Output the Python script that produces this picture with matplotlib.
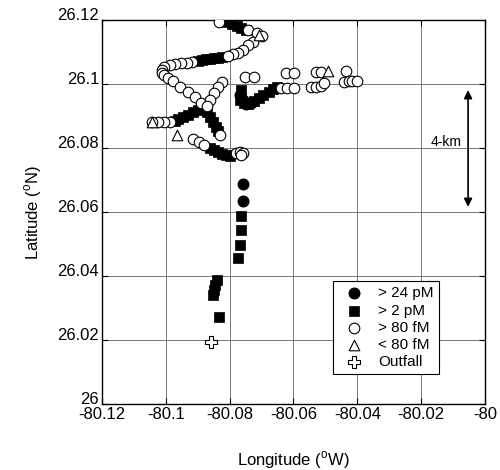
import numpy as np
import matplotlib
matplotlib.use("Agg")
import matplotlib.pyplot as plt
import matplotlib.transforms as mtrans

plt.rcParams['font.family'] = ['Liberation Sans', 'DejaVu Sans']
plt.rcParams['mathtext.fontset'] = 'custom'
plt.rcParams['mathtext.rm'] = 'Liberation Sans'

# > 24 pM
lon_24pm = [-80.0759, -80.0759, -80.0769, -80.0759, -80.0750, -80.0734]
lat_24pm = [26.0688, 26.0634, 26.0966, 26.0950, 26.0938, 26.0941]

# > 2 pM
lon_2pm = [-80.0809, -80.0794, -80.0778, -80.0763, -80.0750,
           -80.0900, -80.0888, -80.0875, -80.0863, -80.0850, -80.0838, -80.0825,
           -80.0884, -80.0900, -80.0916, -80.0931, -80.0947, -80.0963, -80.0972,
           -80.0872, -80.0863, -80.0853, -80.0844, -80.0838,
           -80.0863, -80.0850, -80.0838, -80.0825, -80.0813, -80.0800,
           -80.0766, -80.0769, -80.0756, -80.0741, -80.0725, -80.0709, -80.0694,
           -80.0678, -80.0663, -80.0653,
           -80.0763, -80.0763, -80.0769, -80.0775,
           -80.0841, -80.0847, -80.0850, -80.0853, -80.0834]
lat_2pm = [26.1194, 26.1188, 26.1181, 26.1175, 26.1169,
           26.1072, 26.1075, 26.1077, 26.1078, 26.1080, 26.1081, 26.1084,
           26.0925, 26.0919, 26.0913, 26.0903, 26.0897, 26.0891, 26.0884,
           26.0913, 26.0897, 26.0881, 26.0866, 26.0853,
           26.0800, 26.0794, 26.0788, 26.0781, 26.0778, 26.0775,
           26.0981, 26.0950, 26.0941, 26.0938, 26.0947, 26.0956, 26.0966,
           26.0975, 26.0984, 26.0991,
           26.0588, 26.0544, 26.0497, 26.0456,
           26.0388, 26.0372, 26.0356, 26.0341, 26.0272]

# > 80 fM
lon_80fm = [-80.0834, -80.0744, -80.0713, -80.0700, -80.0728, -80.0744, -80.0759,
            -80.0775, -80.0791, -80.0806,
            -80.0919, -80.0934, -80.0953, -80.0972, -80.0988, -80.1006, -80.1013,
            -80.1013, -80.1006, -80.0994, -80.0978, -80.0956, -80.0931, -80.0909,
            -80.0891,
            -80.0825, -80.0838, -80.0850, -80.0863, -80.0872, -80.0831,
            -80.0988, -80.1006, -80.1025, -80.1044,
            -80.0916, -80.0897, -80.0881, -80.0781, -80.0769, -80.0759, -80.0766,
            -80.0753, -80.0725, -80.0638, -80.0619, -80.0597, -80.0625, -80.0597,
            -80.0544, -80.0528, -80.0513, -80.0503, -80.0531, -80.0513, -80.0434,
            -80.0441, -80.0425, -80.0416, -80.0400]
lat_80fm = [26.1194, 26.1169, 26.1159, 26.1150, 26.1131, 26.1122, 26.1106,
            26.1097, 26.1094, 26.1088,
            26.1069, 26.1066, 26.1066, 26.1063, 26.1059, 26.1053, 26.1044,
            26.1034, 26.1028, 26.1019, 26.1009, 26.0991, 26.0975, 26.0959,
            26.0941,
            26.1006, 26.0991, 26.0972, 26.0950, 26.0931, 26.0841,
            26.0881, 26.0881, 26.0881, 26.0881,
            26.0828, 26.0819, 26.0809, 26.0784, 26.0788, 26.0784, 26.0778,
            26.1022, 26.1022, 26.0988, 26.0988, 26.0988, 26.1034, 26.1034,
            26.0991, 26.0991, 26.0994, 26.1003, 26.1038, 26.1038, 26.1041,
            26.1006, 26.1009, 26.1009, 26.1009]

# < 80 fM
lon_lt80 = [-80.0709, -80.0966, -80.0491, -80.1044]
lat_lt80 = [26.1153, 26.0841, 26.1041, 26.0881]

# outfall
lon_out = [-80.0859]
lat_out = [26.0194]

xticks = [-80.12, -80.1, -80.08, -80.06, -80.04, -80.02, -80]
xticklabels = ['-80.12', '-80.1', '-80.08', '-80.06', '-80.04', '-80.02', '-80']
yticks = [26, 26.02, 26.04, 26.06, 26.08, 26.1, 26.12]
yticklabels = ['26', '26.02', '26.04', '26.06', '26.08', '26.1', '26.12']

fig = plt.figure(figsize=(5, 4.7), dpi=100)
ax = fig.add_axes([0.204, 0.1404, 0.766, 0.817])

ms = 58
ax.scatter(lon_2pm, lat_2pm, marker='s', s=ms, c='black', edgecolors='black',
           linewidths=0.5, zorder=3, label='> 2 pM')
ax.scatter(lon_80fm, lat_80fm, marker='o', s=ms, facecolors='white',
           edgecolors='black', linewidths=0.8, zorder=4, label='> 80 fM')
ax.scatter(lon_24pm, lat_24pm, marker='o', s=ms, c='black', zorder=5, label='> 24 pM')
ax.scatter(lon_lt80, lat_lt80, marker='^', s=ms, facecolors='white',
           edgecolors='black', linewidths=0.8, zorder=6, label='< 80 fM')
ax.scatter(lon_out, lat_out, marker='P', s=75, facecolors='white',
           edgecolors='black', linewidths=0.8, zorder=6, label='Outfall')

ax.set_xlim(-80.12, -80)
ax.set_ylim(26, 26.12)
ax.set_xticks(xticks)
ax.set_xticklabels(xticklabels)
ax.set_yticks(yticks)
ax.set_yticklabels(yticklabels)
ax.tick_params(direction='in', length=4, labelsize=12, top=True, right=True, pad=2)
# y labels sit a little high in the original
shift = mtrans.ScaledTranslation(0, 4 / 72, fig.dpi_scale_trans)
for lab in ax.get_yticklabels():
    lab.set_transform(lab.get_transform() + shift)
ax.grid(True, color='#777777', linewidth=0.7)
ax.set_axisbelow(True)
for sp in ax.spines.values():
    sp.set_linewidth(1.0)

ax.set_xlabel(r'Longitude ($^\mathrm{o}$W)', fontsize=12, labelpad=20)
ax.set_ylabel(r'Latitude ($^\mathrm{o}$N)', fontsize=12, labelpad=10)

# 4-km scale arrow
ax.annotate('', xy=(-80.0053, 26.0616), xytext=(-80.0053, 26.0981),
            arrowprops=dict(arrowstyle='<|-|>', color='black', lw=1.2,
                            mutation_scale=12, shrinkA=0, shrinkB=0))
ax.text(-80.0074, 26.0819, '4-km', ha='right', va='center', fontsize=10)

handles, labels = ax.get_legend_handles_labels()
order = [2, 0, 1, 3, 4]
leg = ax.legend([handles[i] for i in order], [labels[i] for i in order],
                loc='lower right', bbox_to_anchor=(0.880, 0.078), fontsize=11,
                frameon=True, fancybox=False, edgecolor='black', framealpha=1,
                handletextpad=0.6, borderpad=0.35, labelspacing=0.2,
                borderaxespad=0, scatterpoints=1)
leg.get_frame().set_linewidth(0.8)

fig.savefig('out.png', dpi=100)
